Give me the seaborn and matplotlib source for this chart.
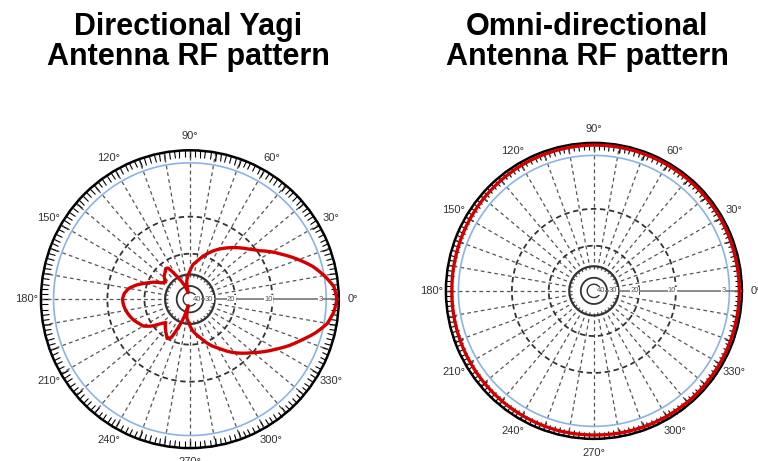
# patrones_antena.py
import numpy as np
import seaborn as sns
import matplotlib.pyplot as plt

# --- datos (grados, dB) ---
yagi_deg = [0, 5, 10, 15, 20, 25, 30, 35, 40, 45, 50, 55, 60, 65, 70, 75, 80, 85, 90, 95, 100,
            105, 110, 115, 120, 125, 128, 132, 138, 145, 150, 155, 160, 165, 170, 175, 180,
            185, 190, 195, 200, 205, 210, 215, 220, 224, 228, 235, 240, 244, 248, 252, 255,
            260, 265, 270, 275, 280, 285, 290, 295, 300, 305, 310, 315, 320, 325, 330, 335,
            340, 345, 350, 355, 360]
yagi_db = [-0.2, -0.5, -1.5, -2.7, -4.3, -6.0, -7.7, -9.6, -11.0, -12.2, -13.4, -14.7, -16.0, -17.5, -19.2, -21, -23, -24.5, -28, -31, -35,
           -50, -40, -34, -28.5, -23, -22.5, -23.5, -24.5, -27, -25.5, -22, -19.5, -16.8, -14.8, -13.8, -13.4,
           -13.6, -14.0, -14.6, -15.3, -16.3, -17.2, -19.5, -23, -25, -23.5, -21.5, -20, -21, -27, -35, -50,
           -35, -32, -29, -26, -24, -22.2, -20, -18, -16.4, -14.5, -12.8, -11.3, -9.9, -8.3, -6.8, -5.2,
           -3.8, -2.3, -1.1, -0.5, -0.2]

omni_deg = list(range(0, 361, 15))
omni_db = [-0.3, -0.3, -0.25, -0.25, -0.25, -0.25, -0.25, -0.3, -0.35, -0.45, -0.55, -0.65, -0.7,
           -0.65, -0.6, -0.55, -0.5, -0.45, -0.45, -0.4, -0.35, -0.3, -0.3, -0.3, -0.3]

anillos_punteados = [-10, -20]
anillos_solidos = [-30, -40, -50]
anillo_ref = -1.5  # circulo azul

escala_txt = ['40', '30', '20', '10', '3']
escala_pos = [-50, -34, -21.6, -10.8, -2.2]

titulos = [["Directional Yagi", "Antenna RF pattern"],
           ["Omni-directional", "Antenna RF pattern"]]


# escala logaritmica tipo ARRL
def arrl(db):
    return 0.89 ** (-np.asarray(db, dtype=float) / 2)


def arrl_inv(r):
    with np.errstate(divide='ignore', invalid='ignore'):
        return -2 * np.log(np.asarray(r, dtype=float)) / np.log(0.89)


def dibujar_polar(ax, deg, db, deg_label):
    ax.set_rscale('function', functions=(arrl, arrl_inv))
    theta = np.deg2rad(np.linspace(0, 360, 361))

    # radios punteados cada 10 grados
    for a in range(10, 360, 10):
        ax.plot([np.deg2rad(a)] * 2, [-32, 0], color='#555555', lw=0.9,
                ls=(0, (3, 2.5)), zorder=1)

    # anillos
    for d in anillos_punteados:
        ax.plot(theta, [d] * len(theta), color='#333333', lw=1.3, ls=(0, (3, 2)), zorder=2)
    for i, d in enumerate(anillos_solidos):
        ax.plot(theta, [d] * len(theta), color='#333333', lw=[1.6, 1.3, 1.0][i], zorder=2)
    ax.plot(theta, [anillo_ref] * len(theta), color='#8ab4e6', lw=1.2, zorder=2)

    # eje de 0 grados con la escala
    ax.plot([0, 0], [-45, 0], color='#777777', lw=1.2, zorder=3)
    for t, p in zip(escala_txt, escala_pos):
        ax.text(0, p, t, fontsize=5.5, color='#555555', ha='center', va='center', zorder=4,
                bbox=dict(fc='white', ec='none', pad=0.2))

    # patron
    sns.lineplot(x=np.deg2rad(deg), y=db, ax=ax, color='#d40000', lw=2.4,
                 sort=False, estimator=None, zorder=5)
    ax.lines[-1].get_path()._interpolation_steps = 8
    ax.set_xlabel('')
    ax.set_ylabel('')

    # marcas angulares
    grados = np.arange(0, 360, 10)
    ax.set_xticks(np.deg2rad(grados))
    ax.set_xticklabels([deg_label(a) if a % 30 == 0 else '' for a in grados])
    ax.set_xticks(np.deg2rad(np.arange(0, 360, 2)), minor=True)
    ax.grid(False)
    ax.set_yticks([])
    ax.tick_params(axis='x', which='both', direction='in', bottom=False, top=True, color='black')
    ax.tick_params(axis='x', which='minor', length=5, width=0.8)
    ax.tick_params(axis='x', which='major', length=6, width=1.0, labelsize=8,
                   labelcolor='#333333', pad=3)
    ax.spines['polar'].set_linewidth(1.8)
    ax.spines['polar'].set_color('black')
    ax.set_ylim(-80, 0)


sns.set_theme(style='white')
plt.rcParams['font.family'] = ['Liberation Sans', 'DejaVu Sans']

fig = plt.figure(figsize=(7.58, 4.61), dpi=100)
ax1 = fig.add_axes([0.054, 0.028, 0.393, 0.646], projection='polar')
ax2 = fig.add_axes([0.588, 0.048, 0.391, 0.642], projection='polar')

dibujar_polar(ax1, yagi_deg, yagi_db, lambda a: f'{a}°')
dibujar_polar(ax2, omni_deg, omni_db, lambda a: f'{a}°')

for cx, lineas in zip([188 / 758, 587 / 758], titulos):
    for k, linea in enumerate(lineas):
        fig.text(cx, 1 - (35 + 30 * k) / 461, linea, ha='center', va='baseline',
                 fontsize=22, fontweight='bold', color='black')

fig.savefig('out.png', dpi=100)
